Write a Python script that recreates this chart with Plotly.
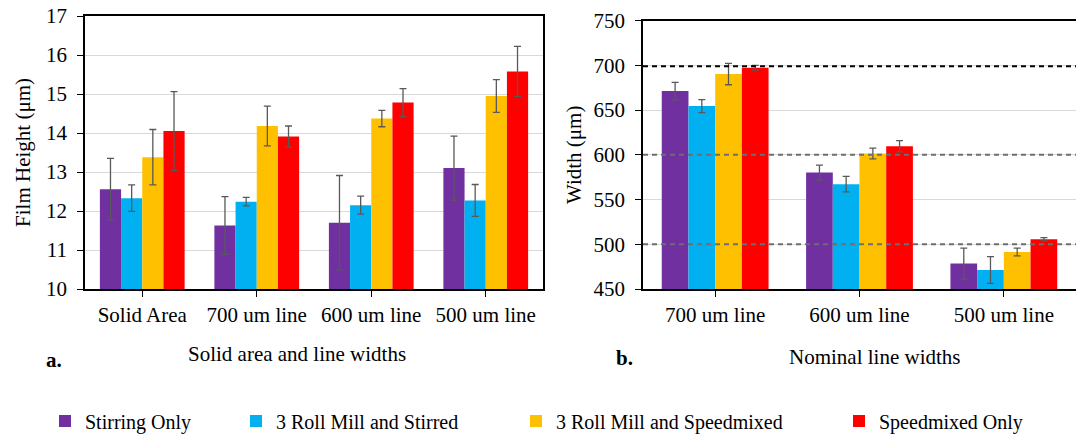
import plotly.graph_objects as go

# ---------------- data ----------------
series_names = ["Stirring Only", "3 Roll Mill and Stirred", "3 Roll Mill and Speedmixed", "Speedmixed Only"]
series_colors = ["#7030A0", "#00B0F0", "#FFC000", "#FF0000"]

# (a) film height
height_categories = ["Solid Area", "700 um line", "600 um line", "500 um line"]
height_stirring = [12.56, 11.63, 11.70, 13.10]
height_stirring_err = [0.79, 0.74, 1.21, 0.82]
height_3rm_stirred = [12.33, 12.24, 12.15, 12.27]
height_3rm_stirred_err = [0.34, 0.11, 0.23, 0.41]
height_3rm_speed = [13.38, 14.18, 14.37, 14.95]
height_3rm_speed_err = [0.71, 0.51, 0.21, 0.42]
height_speed = [14.05, 13.91, 14.78, 15.58]
height_speed_err = [1.01, 0.27, 0.36, 0.64]

# (b) line width
width_categories = ["700 um line", "600 um line", "500 um line"]
width_stirring = [671.3, 580.2, 478.4]
width_stirring_err = [9.8, 8.4, 17.3]
width_3rm_stirred = [654.5, 567.2, 471.3]
width_3rm_stirred_err = [7.3, 8.7, 15.0]
width_3rm_speed = [690.3, 601.5, 491.4]
width_3rm_speed_err = [11.9, 6.0, 4.3]
width_speed = [697.4, 609.7, 505.6]
width_speed_err = [2.6, 6.3, 1.9]

nominal_widths = [699, 600, 500]
nominal_colors = ["#000000", "#6E6E6E", "#6E6E6E"]

height_vals = [height_stirring, height_3rm_stirred, height_3rm_speed, height_speed]
height_errs = [height_stirring_err, height_3rm_stirred_err, height_3rm_speed_err, height_speed_err]
width_vals = [width_stirring, width_3rm_stirred, width_3rm_speed, width_speed]
width_errs = [width_stirring_err, width_3rm_stirred_err, width_3rm_speed_err, width_speed_err]

W, H = 1076, 434
FONT = "Liberation Serif"

fig = go.Figure()
legend_ids = ["legend", "legend2", "legend3", "legend4"]
for i, name in enumerate(series_names):
    fig.add_trace(go.Bar(
        x=height_categories, y=height_vals[i], name=name,
        marker=dict(color=series_colors[i], line=dict(width=0)),
        error_y=dict(type="data", array=height_errs[i], color="#595959", thickness=1.3, width=3.5),
        xaxis="x", yaxis="y", legend=legend_ids[i], showlegend=True,
    ))
for i, name in enumerate(series_names):
    fig.add_trace(go.Bar(
        x=width_categories, y=width_vals[i], name=name,
        marker=dict(color=series_colors[i], line=dict(width=0)),
        error_y=dict(type="data", array=width_errs[i], color="#595959", thickness=1.3, width=3.5),
        xaxis="x2", yaxis="y2", showlegend=False,
    ))

for val, col in zip(nominal_widths, nominal_colors):
    fig.add_shape(type="line", xref="x2 domain", yref="y2", x0=0, x1=1, y0=val, y1=val,
                  line=dict(color=col, width=2, dash="5px,4px"), layer="above")

px = lambda v: v / W
py = lambda v: 1 - v / H

axis_font = dict(family=FONT, size=21, color="#000000")
common_x = dict(showgrid=False, ticks="outside", ticklen=6, tickcolor="#000000",
                linecolor="#000000", linewidth=1.5, tickfont=axis_font, automargin=False,
                showline=True, ticklabelstandoff=0)
common_y = dict(showgrid=True, gridcolor="#D9D9D9", gridwidth=1, ticks="outside", ticklen=6,
                tickcolor="#000000", linecolor="#000000", linewidth=1.5, tickfont=axis_font,
                automargin=False, showline=True, zeroline=False, ticklabelstandoff=6)

legend_text_x = [86, 277, 557, 880]
legends = {}
for lid, tx in zip(legend_ids, legend_text_x):
    legends[lid] = dict(x=px(tx - 41), y=py(421), xanchor="left", yanchor="middle",
                        orientation="h", font=dict(family=FONT, size=20, color="#000000"),
                        bgcolor="rgba(0,0,0,0)", borderwidth=0, itemclick=False)

fig.update_layout(
    width=W, height=H,
    margin=dict(l=0, r=0, t=0, b=0, autoexpand=False),
    paper_bgcolor="white", plot_bgcolor="white",
    font=dict(family=FONT, size=21, color="#000000"),
    barmode="group", bargap=0.26, bargroupgap=0,
    xaxis=dict(domain=[px(85), px(543)], anchor="y", mirror=True, **common_x),
    yaxis=dict(domain=[py(289), py(16)], anchor="x", range=[10, 17], dtick=1, mirror=True,
               title=dict(text="Film Height (μm)", font=axis_font, standoff=10), **common_y),
    xaxis2=dict(domain=[px(643), 1.0], anchor="y2", mirror=True, **common_x),
    yaxis2=dict(domain=[py(289), py(20.7)], anchor="x2", range=[450, 750], dtick=50,
                title=dict(text="Width (μm)", font=axis_font, standoff=6), **common_y),
    annotations=[
        dict(text="Solid area and line widths", x=px(297), y=py(354), xref="paper", yref="paper",
             showarrow=False, font=dict(family=FONT, size=21, color="#000000"),
             xanchor="center", yanchor="middle"),
        dict(text="Nominal line widths", x=px(875), y=py(357), xref="paper", yref="paper",
             showarrow=False, font=dict(family=FONT, size=21, color="#000000"),
             xanchor="center", yanchor="middle"),
        dict(text="<b>a.</b>", x=px(44), y=py(360), xref="paper", yref="paper",
             showarrow=False, font=dict(family=FONT, size=21, color="#000000"),
             xanchor="left", yanchor="middle"),
        dict(text="<b>b.</b>", x=px(614), y=py(358), xref="paper", yref="paper",
             showarrow=False, font=dict(family=FONT, size=21, color="#000000"),
             xanchor="left", yanchor="middle"),
    ],
    **legends,
)

fig.write_html("out.html")
